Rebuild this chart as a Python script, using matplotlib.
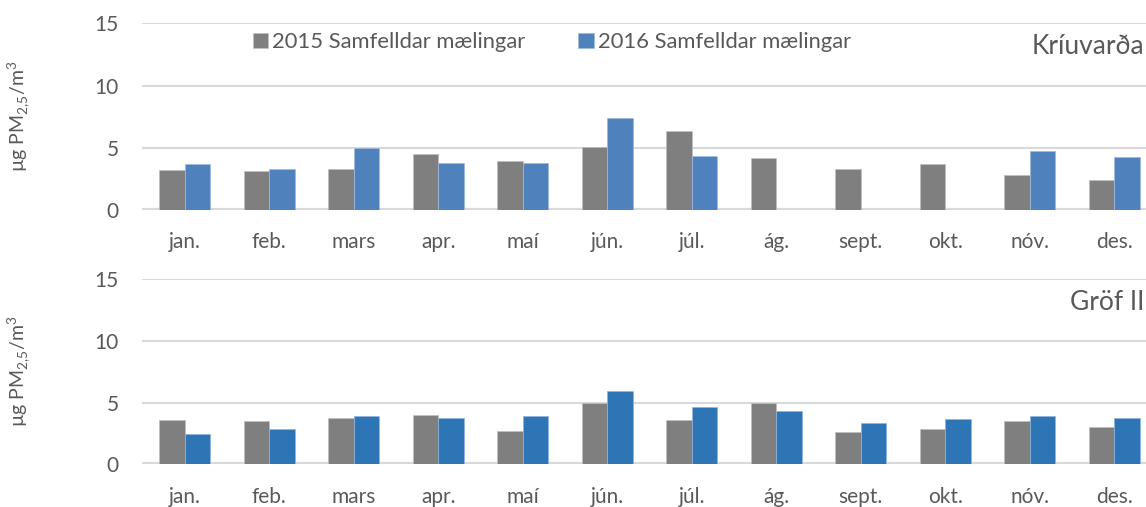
import matplotlib
matplotlib.use("Agg")
import matplotlib.pyplot as plt
import numpy as np

months = ["jan.", "feb.", "mars", "apr.", "maí", "jún.", "júl.", "ág.",
          "sept.", "okt.", "nóv.", "des."]

# Kríuvarða
kriu_2015 = [3.24, 3.14, 3.32, 4.53, 3.94, 5.08, 6.36, 4.15, 3.29, 3.69, 2.82, 2.39]
kriu_2016 = [3.67, 3.27, 4.95, 3.74, 3.77, 7.37, 4.35, np.nan, np.nan, np.nan, 4.78, 4.23]

# Gröf II
grof_2015 = [3.60, 3.49, 3.77, 3.98, 2.70, 5.00, 3.60, 4.94, 2.62, 2.89, 3.49, 3.00]
grof_2016 = [2.48, 2.89, 3.90, 3.77, 3.93, 5.95, 4.64, 4.34, 3.36, 3.66, 3.88, 3.71]

txt = "#595959"
grey = "#7f7f7f"
plt.rcParams['font.family'] = ['Lato', 'DejaVu Sans']

fig = plt.figure(figsize=(11.46, 5.07), dpi=100)
ax1 = fig.add_axes([0.1243, 0.5858, 0.8848, 0.3682])
ax2 = fig.add_axes([0.1243, 0.0842, 0.8848, 0.3655])

x = np.arange(len(months))
w = 0.3


def style(ax):
    ax.set_xlim(-0.5, 11.5)
    ax.set_ylim(0, 15)
    ax.set_yticks([0, 5, 10, 15])
    ax.set_xticks(x)
    ax.set_xticklabels(months)
    ax.tick_params(length=0, colors=txt, labelsize=15)
    ax.tick_params(axis="x", pad=16)
    ax.tick_params(axis="y", pad=17)
    for s in ax.spines.values():
        s.set_visible(False)
    ax.grid(axis="y", color="#d9d9d9", lw=1.5, zorder=0)
    ax.axhline(0, color="#d9d9d9", lw=3, zorder=1)
    ax.set_axisbelow(True)
    ax.set_ylabel(r"µg PM$_{\mathregular{2{,}5}}$/m$^{\mathregular{3}}$", color=txt,
                  fontsize=14, labelpad=45)


ax1.bar(x - w / 2, kriu_2015, w, color=grey, edgecolor="#bfbfbf", lw=0.5,
        label="2015 Samfelldar mælingar", zorder=2)
ax1.bar(x + w / 2, kriu_2016, w, color="#4f81bd", edgecolor="#9dbbe0", lw=0.5,
        label="2016 Samfelldar mælingar", zorder=2)
style(ax1)
ax1.legend(loc="upper left", bbox_to_anchor=(0.1, 1.0), ncol=2, frameon=False,
           fontsize=15.8, labelcolor=txt, handlelength=0.7, handleheight=0.7,
           handletextpad=0.2, columnspacing=2.4, borderaxespad=0.0)

ax2.bar(x - w / 2, grof_2015, w, color=grey, edgecolor="#bfbfbf", lw=0.5, zorder=2)
ax2.bar(x + w / 2, grof_2016, w, color="#2e75b6", edgecolor="#8fb6df", lw=0.5, zorder=2)
style(ax2)

fig.text(1144 / 1146, 1 - 46 / 507, "Kríuvarða", color=txt, fontsize=19,
         va="center", ha="right")
fig.text(1144 / 1146, 1 - 303 / 507, "Gröf II", color=txt, fontsize=19,
         va="center", ha="right")

fig.savefig("out.png", dpi=100)
